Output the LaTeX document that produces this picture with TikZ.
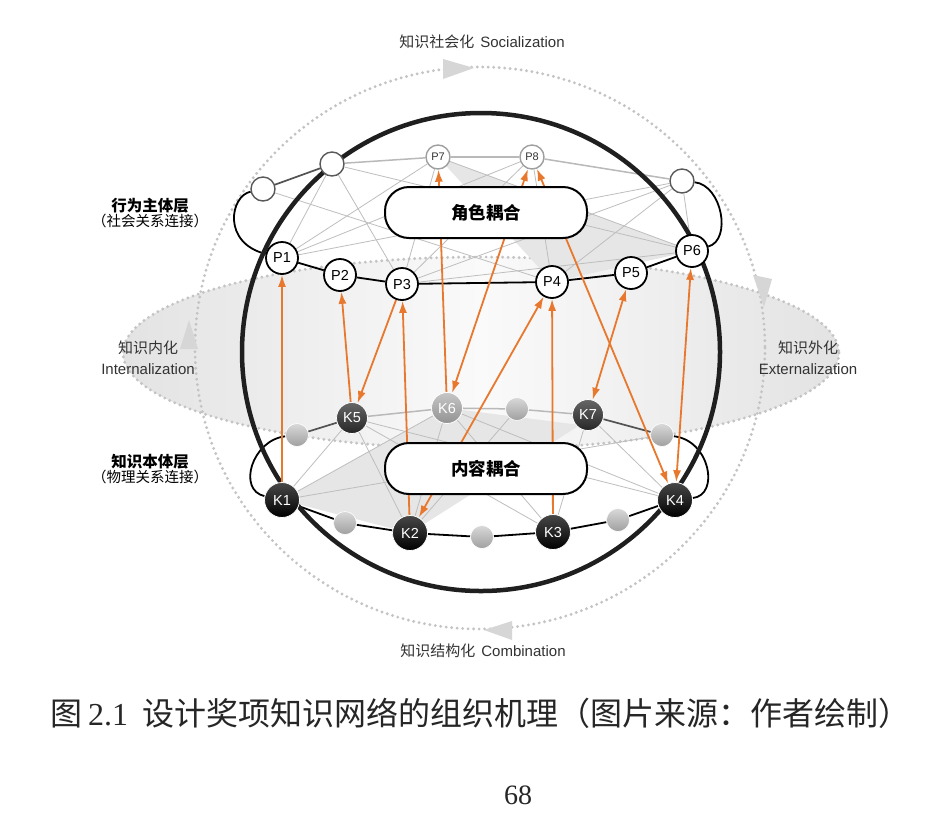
\documentclass[tikz,border=0pt]{standalone}
\usepackage{fontspec}
\setmainfont{Liberation Sans}
\newfontfamily\cjk{Noto Sans CJK SC}
\newfontfamily\numfont{Liberation Serif}
\usetikzlibrary{arrows.meta,backgrounds}
\pgfdeclarelayer{bg}
\pgfdeclarelayer{lines}
\pgfsetlayers{bg,lines,main}
\definecolor{orng}{RGB}{232,120,45}
\definecolor{txt}{RGB}{51,51,51}
\definecolor{dotc}{RGB}{196,196,196}
\definecolor{thinc}{RGB}{190,190,190}
\definecolor{shadec}{RGB}{230,230,230}
\definecolor{tric}{RGB}{214,214,214}
\begin{document}
\begin{tikzpicture}[x=1pt,y=-1pt,
  pnode/.style={circle, draw=black, line width=1.8pt, fill=white, minimum size=32pt, inner sep=0pt, font=\fontsize{14.5}{14.5}\selectfont},
  psmall/.style={circle, draw=gray!75, line width=1.4pt, fill=white, minimum size=24pt, inner sep=0pt, text=txt, font=\fontsize{11}{11}\selectfont},
  popen/.style={circle, draw=gray!70!black, line width=1.4pt, fill=white, minimum size=24pt, inner sep=0pt},
  kbig/.style={circle, draw=white, line width=0.8pt, top color=black!72, bottom color=black, minimum size=35pt, inner sep=0pt, text=white, font=\fontsize{14.5}{14.5}\selectfont},
  kmid/.style={circle, draw=white, line width=0.8pt, top color=black!60, bottom color=black!85, minimum size=31pt, inner sep=0pt, text=white, font=\fontsize{14.5}{14.5}\selectfont},
  klight/.style={circle, draw=white, line width=0.8pt, top color=gray!45, bottom color=gray!85, minimum size=31pt, inner sep=0pt, text=white, font=\fontsize{14.5}{14.5}\selectfont},
  sball/.style={circle, draw=white, line width=0.6pt, top color=gray!30, bottom color=gray!75, minimum size=23pt, inner sep=0pt},
  cbox/.style={rectangle, rounded corners=24pt, draw=black, line width=2pt, fill=white, minimum width=202pt, minimum height=51pt, font=\cjk\bfseries\fontsize{17.5}{17.5}\selectfont},
  lbl/.style={text=txt, font=\fontsize{15}{21}\selectfont, align=center, inner sep=0pt},
  layerlbl/.style={text=black, align=center, inner sep=0pt},
  gl/.style={draw=thinc, line width=0.8pt},
  ringf/.style={draw=black, line width=1.8pt},
  ringd/.style={draw=gray!65!black, line width=1.7pt},
  ringl/.style={draw=gray!55, line width=1.5pt},
  dots/.style={draw=dotc, line width=3.2pt, line cap=round, dash pattern=on 0pt off 5.5pt},
  oarr/.style={draw=orng, line width=1.8pt, -{Latex[length=12pt,width=8pt]}},
  oarrb/.style={draw=orng, line width=1.8pt, {Latex[length=12pt,width=8pt]}-{Latex[length=12pt,width=8pt]}}
]
\useasboundingbox (0,0) rectangle (944,812);

% ---------- nodes: top layer ----------
\node[pnode] (P1) at (282,258) {P1};
\node[pnode] (P2) at (340,275) {P2};
\node[pnode] (P3) at (402,284) {P3};
\node[pnode] (P4) at (552,282) {P4};
\node[pnode] (P5) at (631,273) {P5};
\node[pnode] (P6) at (692,251) {P6};
\node[psmall] (P7) at (438,157) {P7};
\node[psmall] (P8) at (532,157) {P8};
\node[popen] (A) at (263,189) {};
\node[popen] (B) at (332,164) {};
\node[popen] (C) at (682,181) {};
\node[cbox] (R) at (486,212.5) {角色耦合};

% ---------- nodes: bottom layer ----------
\node[kbig] (K1) at (282,500) {K1};
\node[kbig] (K2) at (410,533) {K2};
\node[kbig] (K3) at (553,532) {K3};
\node[kbig] (K4) at (675,500) {K4};
\node[kmid] (K5) at (352,418) {K5};
\node[klight] (K6) at (447,408) {K6};
\node[kmid] (K7) at (588,415) {K7};
\node[sball] (bL) at (297,435) {};
\node[sball] (bD) at (517,409) {};
\node[sball] (bR) at (662,435) {};
\node[sball] (b1) at (345,523) {};
\node[sball] (b2) at (482,537) {};
\node[sball] (b3) at (618,520) {};
\node[cbox] (N) at (486,468.5) {内容耦合};

% ---------- texts ----------
\node[lbl] (tS) at (482,42) {{\cjk 知识社会化}\hspace{6pt}Socialization};
\node[lbl] (tC) at (483,651) {{\cjk 知识结构化}\hspace{6pt}Combination};
\node[lbl] (tI) at (148,357.5) {{\cjk 知识内化}\\Internalization};
\node[lbl] (tE) at (808,357.5) {{\cjk 知识外化}\\Externalization};
\node[layerlbl] (tP) at (150,213) {{\cjk\bfseries\fontsize{15.5}{19}\selectfont 行为主体层}\\{\cjk\fontsize{14.5}{19}\selectfont （社会关系连接）}};
\node[layerlbl] (tK) at (150,469) {{\cjk\bfseries\fontsize{15.5}{19}\selectfont 知识本体层}\\{\cjk\fontsize{14.5}{19}\selectfont （物理关系连接）}};
\node[inner sep=0pt, text=black!85, font=\fontsize{32}{36}\selectfont] (cap) at (480,713)
  {{\cjk 图}\hspace{6pt}{\numfont 2.1}\hspace{14pt}{\cjk 设计奖项知识网络的组织机理（图片来源：作者绘制）}};
\node[inner sep=0pt, text=black!85, font=\numfont\fontsize{28}{28}\selectfont] (pg) at (518,795) {68};

% ---------- background ----------
\begin{pgfonlayer}{bg}
  \fill[white] (0,0) rectangle (944,812);
  \shade[left color=gray!22, right color=gray!22, middle color=white!96!gray] (481,353) ellipse [x radius=358, y radius=96];
  \draw[dots] (481,353) ellipse [x radius=358, y radius=96];
  \draw[dots] (480,348) ellipse [x radius=285, y radius=281];
  \fill[tric] (443,59) -- (474,68) -- (443,79) -- cycle;
  \fill[tric] (753,275) -- (772,279) -- (764,307) -- cycle;
  \fill[tric] (484,630) -- (512,621) -- (512,640) -- cycle;
  \fill[tric] (189,320) -- (198,349) -- (180,349) -- cycle;
\end{pgfonlayer}

\begin{pgfonlayer}{lines}
  % shaded faces
  \fill[shadec] (P7.center) -- (P6.center) -- (P4.center) -- cycle;
  \fill[shadec] (K1.center) -- (K6.center) -- (580,425) -- (K2.center) -- cycle;
  % thin gray links, top layer
  \draw[gl] (P1) -- (B);
  \draw[gl] (P1) -- (P7);
  \draw[gl] (P1) -- (P8);
  \draw[gl] (P1) -- (C);
  \draw[gl] (B) -- (P3);
  \draw[gl] (A) -- (P4);
  \draw[gl] (P3) -- (P7);
  \draw[gl] (P3) -- (P8);
  \draw[gl] (P3) -- (C);
  \draw[gl] (P3) -- (P6);
  \draw[gl] (P4) -- (P8);
  \draw[gl] (P4) -- (C);
  \draw[gl] (P6) -- (C);
  \draw[gl] (P6) -- (P7);
  \draw[gl] (P6) -- (B);
  % thin gray links, bottom layer
  \draw[gl] (K1) -- (K5);
  \draw[gl] (K1) -- (K6);
  \draw[gl] (K1) -- (bR);
  \draw[gl] (K5) -- (K2);
  \draw[gl] (K5) -- (K3);
  \draw[gl] (K2) -- (K6);
  \draw[gl] (K2) -- (bD);
  \draw[gl] (K3) -- (K6);
  \draw[gl] (K3) -- (K7);
  \draw[gl] (K4) -- (K7);
  \draw[gl] (K4) -- (K6);
  \draw[gl] (K4) -- (K5);
  % top ring
  \draw[ringd] (A) -- (B);
  \draw[ringl] (B) -- (P7);
  \draw[ringl] (P7) -- (P8);
  \draw[ringl] (P8) -- (C);
  \draw[ringf] (A) .. controls (230,196) and (222,243) .. (P1);
  \draw[ringf] (P1) -- (P2);
  \draw[ringf] (P2) -- (P3);
  \draw[ringf] (P3) -- (P4);
  \draw[ringf] (P4) -- (P5);
  \draw[ringf] (P5) -- (P6);
  \draw[ringf] (C) .. controls (722,185) and (732,240) .. (P6);
  % bottom ring
  \draw[ringd] (bL) -- (K5);
  \draw[ringl] (K5) -- (K6);
  \draw[ringl] (K6) -- (bD);
  \draw[ringl] (bD) -- (K7);
  \draw[ringd] (K7) -- (bR);
  \draw[ringf] (bL) .. controls (252,440) and (237,490) .. (K1);
  \draw[ringf] (K1) -- (b1);
  \draw[ringf] (b1) -- (K2);
  \draw[ringf] (K2) -- (b2);
  \draw[ringf] (b2) -- (K3);
  \draw[ringf] (K3) -- (b3);
  \draw[ringf] (b3) -- (K4);
  \draw[ringf] (bR) .. controls (710,440) and (720,495) .. (K4);
  % big sphere outline
  \draw[line width=4.5pt, black!88] (481,352) circle [radius=239];
  % orange arrows
  \draw[oarr] (K1) -- (P1);
  \draw[oarr] (K5) -- (P2);
  \draw[oarr] (P3) -- (K5);
  \draw[oarr] (K2) -- (P3);
  \draw[oarr] (K6) -- (P7);
  \draw[oarrb] (P8) -- (K6);
  \draw[oarrb] (K2) -- (P4);
  \draw[oarr] (K3) -- (P4);
  \draw[oarrb] (P5) -- (K7);
  \draw[oarrb] (P6) -- (K4);
  \draw[oarrb] (P8) -- (K4);
\end{pgfonlayer}
\end{tikzpicture}
\end{document}
